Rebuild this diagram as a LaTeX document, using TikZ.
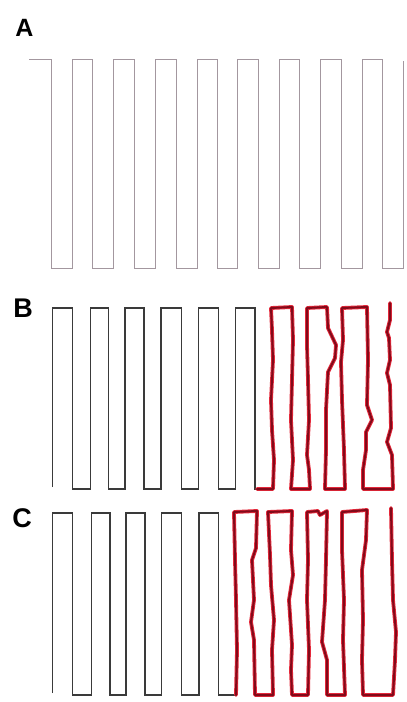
\documentclass[tikz,border=0pt]{standalone}
\usepackage{fontspec}
\setmainfont{Liberation Sans}
\definecolor{colA}{HTML}{A3979F}
\definecolor{colK}{HTML}{3A3A3A}
\definecolor{colRh}{HTML}{E4283A}
\definecolor{colRc}{HTML}{820A1A}
\begin{document}
\begin{tikzpicture}[x=1pt,y=-1pt,
  lineA/.style={draw=colA, line width=0.9pt, line join=miter},
  lineK/.style={draw=colK, line width=1.1pt, line join=miter},
  redline/.style={draw=colRc, line width=2pt, line join=round, line cap=round,
    preaction={draw=colRh, line width=3.8pt, line join=round, line cap=round}},
  lab/.style={inner sep=0pt, anchor=center, text=black}]
\useasboundingbox[fill=white] (0,0) rectangle (407,702);

% labels
\node[lab, font=\bfseries\fontsize{25}{25}\selectfont] (labA) at (24.5,28) {A};
\node[lab, font=\bfseries\fontsize{27}{27}\selectfont] (labB) at (23,308) {B};
\node[lab, font=\bfseries\fontsize{27}{27}\selectfont] (labC) at (22,518.5) {C};

% panel A
\draw[lineA] (29,59) -- (51,59) -- (51,268) -- (72,268) -- (72,59) -- (92,59)
  -- (92,268) -- (113,268) -- (113,59) -- (134,59) -- (134,268) -- (155,268)
  -- (155,59) -- (176,59) -- (176,268) -- (197,268) -- (197,59) -- (217,59)
  -- (217,268) -- (237,268) -- (237,59) -- (258,59) -- (258,268) -- (279,268)
  -- (279,59) -- (299,59) -- (299,268) -- (320,268) -- (320,59) -- (341,59)
  -- (341,268) -- (362,268) -- (362,59) -- (382,59) -- (382,268) -- (403,268)
  -- (403,61);

% panel B black
\draw[lineK] (52.5,487) -- (52.5,308) -- (72.5,308) -- (72.5,489) -- (90.5,489)
  -- (90.5,308) -- (108.5,308) -- (108.5,489) -- (125,489) -- (125,308)
  -- (144,308) -- (144,489) -- (161,489) -- (161,308) -- (181.5,308)
  -- (181.5,489) -- (198.5,489) -- (198.5,308) -- (218.5,308) -- (218.5,489)
  -- (235.5,489) -- (235.5,308) -- (255,308) -- (255,489) -- (259,489);

% panel B red
\draw[redline] (257,489) -- (273,489) -- (274,460) -- (272,430) -- (271,400)
  -- (273,360) -- (272,330) -- (271,308) -- (292,307) -- (293,340) -- (292,380)
  -- (291,420) -- (293,460) -- (291,489) -- (310,489) -- (309,470) -- (307,455)
  -- (309,420) -- (308,380) -- (307,345) -- (307,308) -- (327,307) -- (328,328)
  -- (336,345) -- (335,358) -- (328,372) -- (326,410) -- (326,450) -- (325,489)
  -- (345,489) -- (344,450) -- (342,400) -- (341,362) -- (343,340) -- (342,308)
  -- (367,307) -- (368,360) -- (367,405) -- (372,420) -- (366,432) -- (366,450)
  -- (363,470) -- (363,489) -- (393,489) -- (392,455) -- (387,442) -- (391,428)
  -- (390,385) -- (387,373) -- (390,360) -- (389,338) -- (387,332) -- (390,320)
  -- (390,303);

% panel C black
\draw[lineK] (52.5,693) -- (52.5,513) -- (72.5,513) -- (72.5,695) -- (91.5,695)
  -- (91.5,513) -- (110,513) -- (110,695) -- (126,695) -- (126,513)
  -- (145,513) -- (145,695) -- (161.5,695) -- (161.5,513) -- (181.5,513)
  -- (181.5,695) -- (199,695) -- (199,513) -- (218.5,513) -- (218.5,695)
  -- (237,695);

% panel C red
\draw[redline] (236,695) -- (237,650) -- (236,600) -- (235,560) -- (234,512)
  -- (257,511) -- (256,548) -- (252,560) -- (254,600) -- (251,622) -- (254,640)
  -- (255,695) -- (273,695) -- (272,650) -- (274,620) -- (271,585) -- (270,555)
  -- (268,512) -- (292,511) -- (291,550) -- (293,575) -- (289,600) -- (292,645)
  -- (291,670) -- (292,695) -- (308,695) -- (309,650) -- (307,600) -- (308,560)
  -- (307,512) -- (318,511) -- (320,515) -- (327,511) -- (326,560) -- (325,600)
  -- (322,642) -- (327,660) -- (327,695) -- (345,695) -- (343,640) -- (344,600)
  -- (342,550) -- (342,512) -- (367,510) -- (366,540) -- (362,570) -- (363,620)
  -- (362,660) -- (363,695) -- (393,695) -- (395,660) -- (396,632) -- (393,600)
  -- (392,560) -- (391,508);
\end{tikzpicture}
\end{document}
